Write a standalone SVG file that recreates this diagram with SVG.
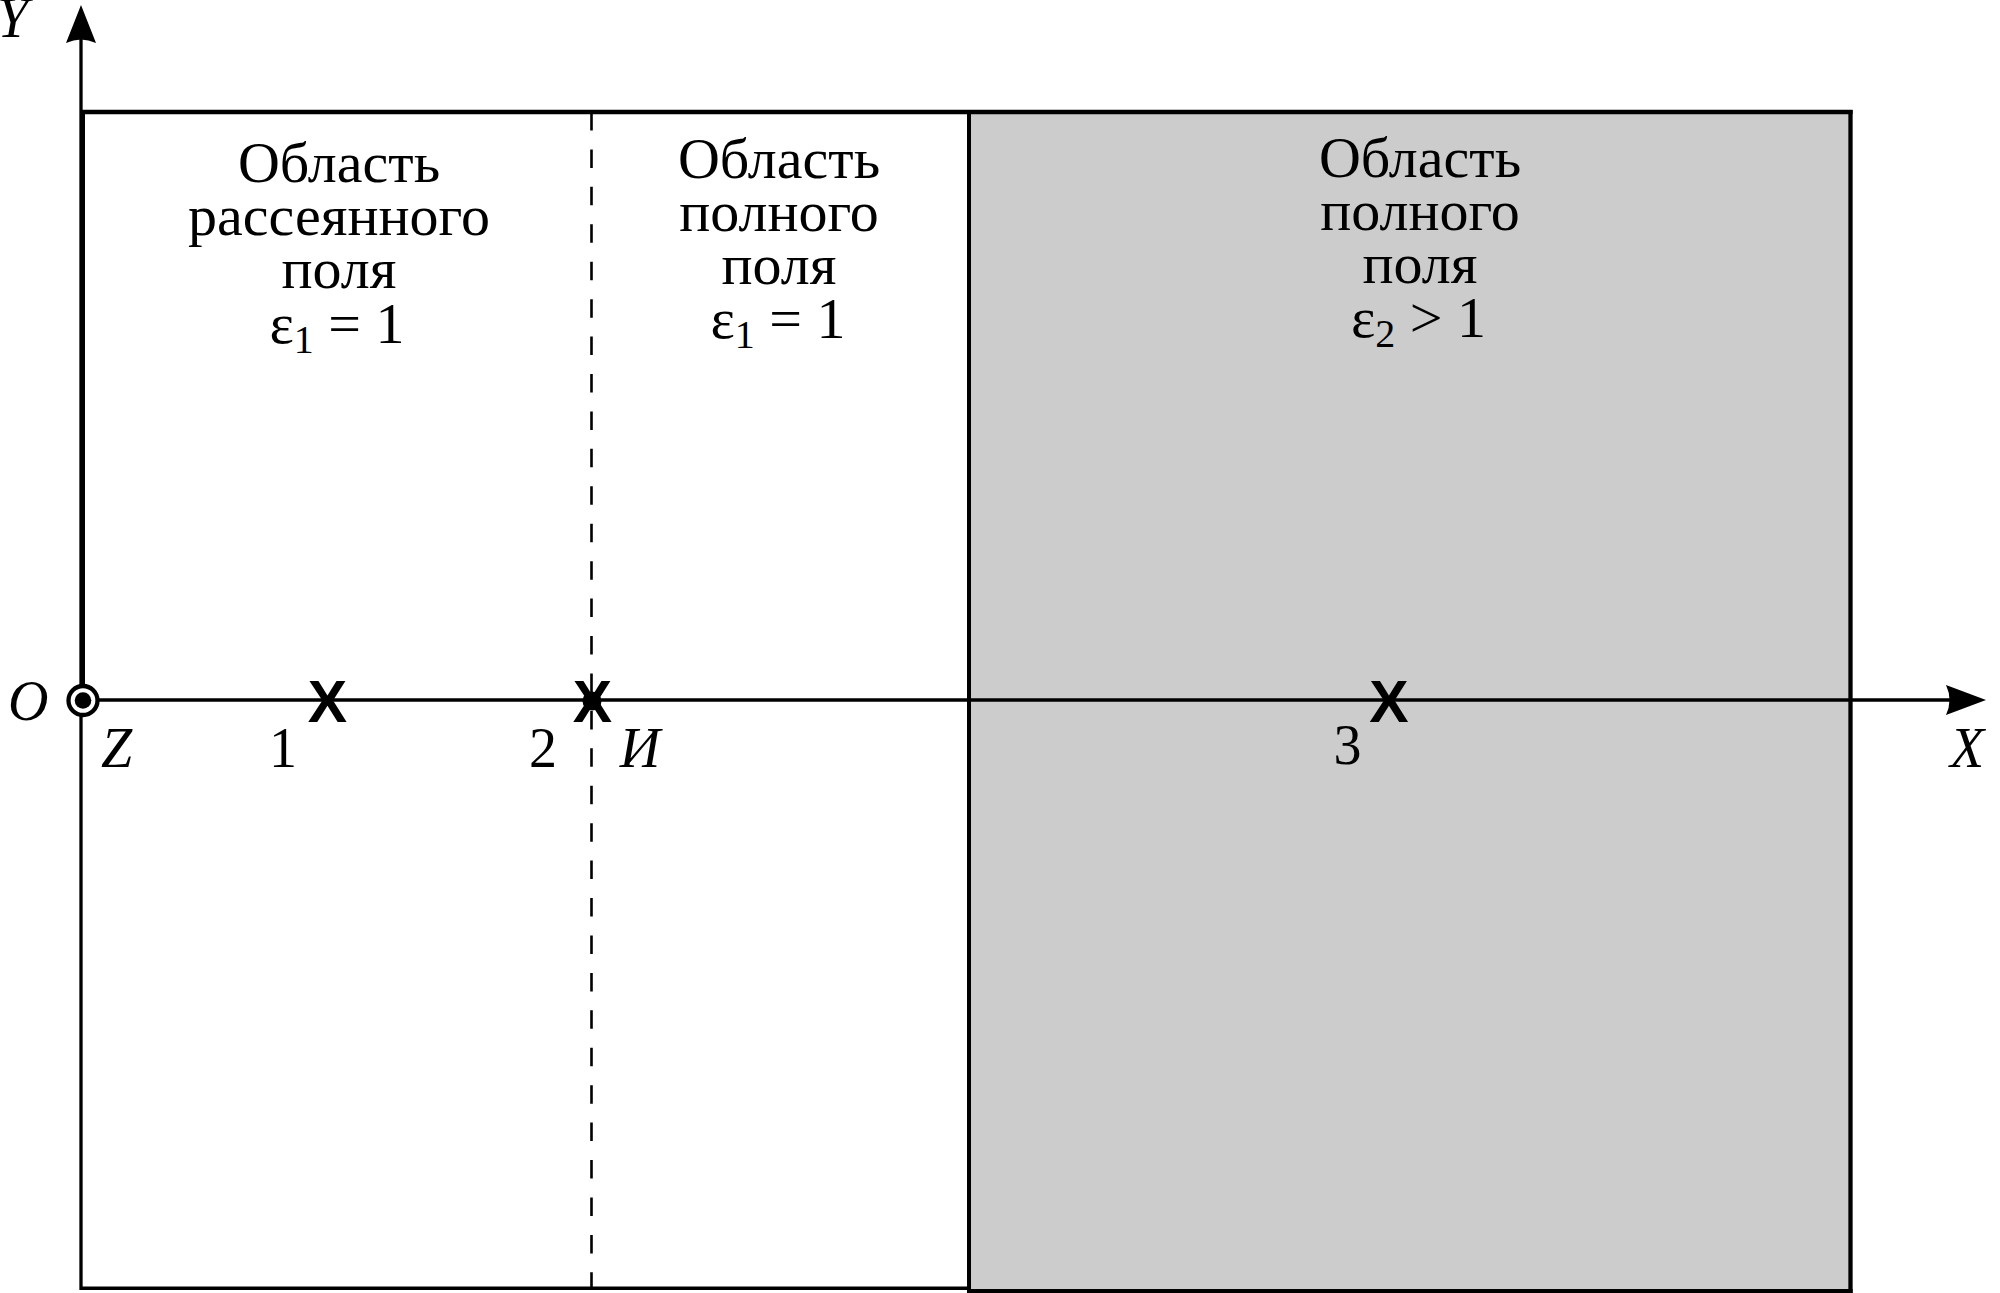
<svg xmlns="http://www.w3.org/2000/svg" width="2000" height="1293" viewBox="0 0 2000 1293">
<style>
.t{font-family:"Liberation Serif","Times New Roman",serif;font-size:58px;fill:#000;text-anchor:middle}
.sub{font-size:40px}
.lbl{font-family:"Liberation Serif","Times New Roman",serif;font-size:56px;fill:#000}
.it{font-style:italic}
.mk{font-family:"Liberation Sans",Arial,sans-serif;font-weight:bold;font-size:59px;text-anchor:middle;fill:#000}
.ln{stroke:#000;fill:none}
</style>
<rect width="2000" height="1293" fill="#fff"/>
<g id="region-scattered">
  <line class="ln" x1="82.5" y1="110" x2="82.5" y2="700" stroke-width="5"/>
  <line class="ln" x1="80" y1="1288.3" x2="969" y2="1288.3" stroke-width="3.4"/>
  <text class="t" x="339" y="182">Область</text>
  <text class="t" x="339" y="235">рассеянного</text>
  <text class="t" x="339" y="288">поля</text>
  <text class="t" x="337" y="343">ε<tspan class="sub" dy="10">1</tspan><tspan dy="-10"> = 1</tspan></text>
</g>
<g id="region-total-1">
  <line class="ln" x1="591.5" y1="112" x2="591.5" y2="1288" stroke-width="2.6" stroke-dasharray="18.5 18.93"/>
  <text class="t" x="779" y="177.5">Область</text>
  <text class="t" x="779" y="230.5">полного</text>
  <text class="t" x="779" y="284">поля</text>
  <text class="t" x="778" y="338">ε<tspan class="sub" dy="10">1</tspan><tspan dy="-10"> = 1</tspan></text>
</g>
<g id="region-total-2">
  <rect x="969" y="112" width="881.5" height="1179" fill="#cccccc"/>
  <line class="ln" x1="969" y1="112" x2="969" y2="1293" stroke-width="4"/>
  <line class="ln" x1="1850.5" y1="110" x2="1850.5" y2="1293" stroke-width="4.3"/>
  <line class="ln" x1="967" y1="1291" x2="1852.6" y2="1291" stroke-width="4"/>
  <text class="t" x="1420" y="177">Область</text>
  <text class="t" x="1420" y="229.5">полного</text>
  <text class="t" x="1420" y="283">поля</text>
  <text class="t" x="1418.5" y="337">ε<tspan class="sub" dy="10">2</tspan><tspan dy="-10"> &gt; 1</tspan></text>
</g>
<g id="frame-top">
  <line class="ln" x1="80" y1="112" x2="1852.6" y2="112" stroke-width="4.3"/>
</g>
<g id="connectors">
  <line class="ln" x1="81" y1="38" x2="81" y2="1290" stroke-width="3.3"/>
  <path d="M81,5 L96,43 Q81,36 66,43 Z" fill="#000"/>
  <line class="ln" x1="95" y1="700" x2="1952" y2="700" stroke-width="3.6"/>
  <path d="M1986,700 L1946,685 Q1953,700 1946,715 Z" fill="#000"/>
</g>
<g id="origin">
  <circle cx="83" cy="700.5" r="14.5" fill="#fff" stroke="#000" stroke-width="4.3"/>
  <circle cx="83" cy="700.5" r="8.3" fill="#000"/>
  <text class="lbl it" x="8" y="720">O</text>
  <text class="lbl it" x="101" y="767">Z</text>
</g>
<g id="axis-labels">
  <text class="lbl it" x="-3" y="37">Y</text>
  <text class="lbl it" x="1950" y="767">X</text>
</g>
<g id="point-1">
  <text class="mk" x="327.5" y="722">X</text>
  <text class="lbl" x="283" y="767" text-anchor="middle">1</text>
</g>
<g id="point-2">
  <text class="mk" x="592.5" y="722">X</text>
  <circle cx="592" cy="701" r="9.5" fill="#000"/>
  <text class="lbl" x="543" y="767" text-anchor="middle">2</text>
  <text class="lbl it" x="640" y="767" text-anchor="middle">И</text>
</g>
<g id="point-3">
  <text class="mk" x="1389" y="722">X</text>
  <text class="lbl" x="1347.5" y="764" text-anchor="middle">3</text>
</g>
</svg>
